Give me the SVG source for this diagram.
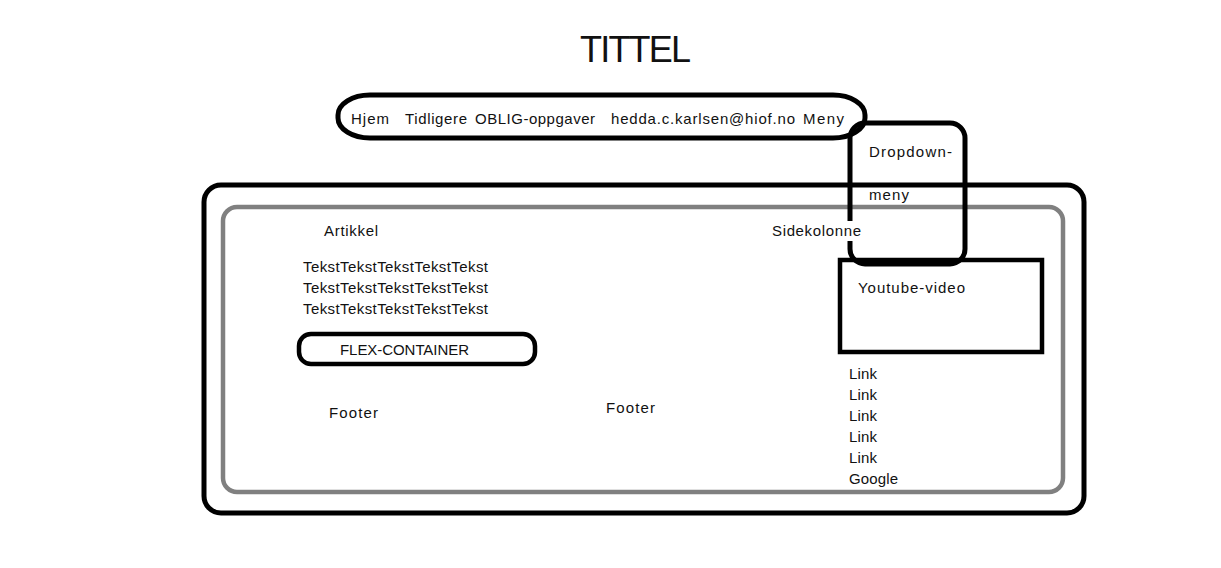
<svg xmlns="http://www.w3.org/2000/svg" width="1221" height="568" viewBox="0 0 1221 568">
<style>
text{font-family:"Liberation Sans",Arial,sans-serif;font-size:15px;fill:#111}
.k{fill:none;stroke:#000;stroke-width:5}
.g{fill:none;stroke:#808080;stroke-width:4.5}
</style>
<rect width="1221" height="568" fill="#fff"/>
<g id="title"><text x="580" y="62" style="font-size:36px" textLength="111">TITTEL</text></g>
<g id="page"><rect class="k" x="204" y="185" width="880" height="328" rx="17"/></g>
<g id="main"><rect class="g" x="223" y="207" width="840" height="285" rx="14"/></g>
<g id="artikkel">
<text x="324" y="236" textLength="54">Artikkel</text>
<text x="303" y="272" textLength="185">TekstTekstTekstTekstTekst</text>
<text x="303" y="293" textLength="185">TekstTekstTekstTekstTekst</text>
<text x="303" y="314" textLength="185">TekstTekstTekstTekstTekst</text>
</g>
<g id="flex"><rect class="k" x="299" y="334" width="236" height="30" rx="12" style="stroke-width:4.5"/><text x="340" y="355" textLength="129">FLEX-CONTAINER</text></g>
<g id="footer1"><text x="329" y="418" textLength="49">Footer</text></g>
<g id="footer2"><text x="606" y="413" textLength="49">Footer</text></g>
<g id="youtube"><rect class="k" x="840" y="260" width="202" height="92" style="stroke-width:4.5"/><text x="858" y="293" textLength="107">Youtube-video</text></g>
<g id="links">
<text x="849" y="379" textLength="28">Link</text>
<text x="849" y="400" textLength="28">Link</text>
<text x="849" y="421" textLength="28">Link</text>
<text x="849" y="442" textLength="28">Link</text>
<text x="849" y="463" textLength="28">Link</text>
<text x="849" y="484" textLength="49">Google</text>
</g>
<g id="dropdown"><rect class="k" x="850" y="123" width="115" height="141" rx="15"/><text x="869" y="157" textLength="83">Dropdown-</text><text x="869" y="200" textLength="40">meny</text></g>
<g id="sidekolonne"><rect x="770" y="221" width="92" height="20" fill="#fff"/><text x="772" y="236" textLength="89">Sidekolonne</text></g>
<g id="nav"><rect class="k" x="338" y="95" width="527" height="43" rx="32" ry="20"/>
<text x="351" y="124" textLength="38">Hjem</text>
<text x="405" y="124" textLength="62">Tidligere</text>
<text x="475" y="124" textLength="120">OBLIG-oppgaver</text>
<text x="611" y="124" textLength="184">hedda.c.karlsen@hiof.no</text>
<text x="803" y="124" textLength="41">Meny</text>
</g>
<g id="connectors"/>
</svg>
